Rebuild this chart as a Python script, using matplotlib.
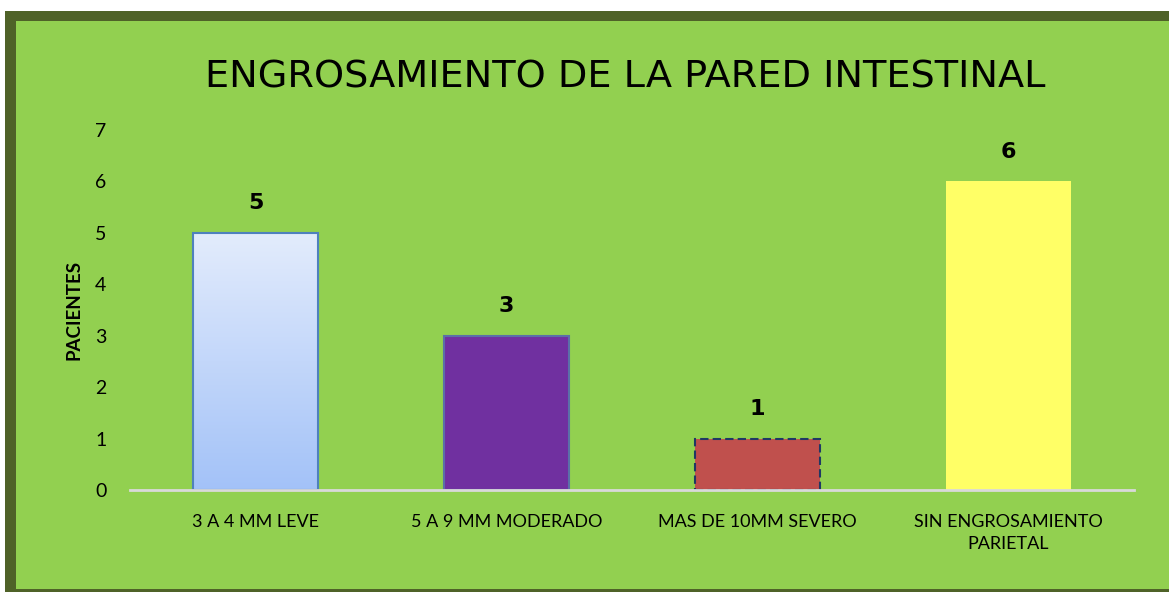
import matplotlib
import matplotlib.pyplot as plt
import numpy as np
from matplotlib.patches import Rectangle

matplotlib.use('Agg')

categories = ["3 A 4 MM LEVE", "5 A 9 MM MODERADO", "MAS DE 10MM SEVERO", "SIN ENGROSAMIENTO\nPARIETAL"]
pacientes = [5, 3, 1, 6]
y_ticks = [0, 1, 2, 3, 4, 5, 6, 7]
title = "ENGROSAMIENTO DE LA PARED INTESTINAL"
y_label = "PACIENTES"

W, H = 1169, 592
fig = plt.figure(figsize=(W / 100, H / 100), dpi=100)
fig.patch.set_facecolor("white")

# frame: dark olive border + green fill
fig.patches.append(Rectangle((5 / W, 0), 1 - 5 / W, (H - 11) / H, transform=fig.transFigure,
                             facecolor="#4F6228", edgecolor="none", zorder=-2))
fig.patches.append(Rectangle((16 / W, 3 / H), 1 - 16 / W, (589 - 21) / H, transform=fig.transFigure,
                             facecolor="#92D050", edgecolor="none", zorder=-1))

ax = fig.add_axes([130 / W, 1 - 490 / H, (1134 - 130) / W, (490 - 130) / H])
ax.set_facecolor("none")
ax.patch.set_alpha(0.0)

x = np.arange(len(categories))
faces = ["none", "#7030A0", "#C0504D", "#FFFF66"]
edges = ["#4F81BD", "#5B6FA8", "#1F3864", "none"]
styles = ["solid", "solid", (0, (4, 2)), "solid"]
bars = ax.bar(x, pacientes, width=0.5, color=faces, zorder=3)
for b, ec, ls in zip(bars, edges, styles):
    b.set_edgecolor(ec)
    b.set_linestyle(ls)
    b.set_linewidth(1.5 if ec != "none" else 0)

# gradient fill for the first bar
b0 = bars[0]
grad = np.linspace(0, 1, 256).reshape(-1, 1)
top_c = np.array([0xE3, 0xEC, 0xFC]) / 255
bot_c = np.array([0xA3, 0xC2, 0xF8]) / 255
img = top_c[None, None, :] * (1 - grad[:, :, None]) + bot_c[None, None, :] * grad[:, :, None]
ax.imshow(img, extent=[b0.get_x(), b0.get_x() + b0.get_width(), 0, b0.get_height()],
          aspect="auto", zorder=2, origin="upper")

for b, v in zip(bars, pacientes):
    ax.annotate(str(v), (b.get_x() + b.get_width() / 2, v), xytext=(0, 14), textcoords="offset points",
                ha="center", va="bottom", fontsize=16, fontweight="bold", color="black")

ax.set_xlim(-0.5, len(categories) - 0.5)
ax.set_ylim(0, 7)
ax.set_yticks(y_ticks)
ax.set_xticks(x)
ax.set_xticklabels(categories, fontsize=13, family="Lato", linespacing=1.5)
for lab in ax.get_yticklabels():
    lab.set_family("Lato")
    lab.set_fontsize(14)
ax.tick_params(axis="both", length=0)
ax.tick_params(axis="x", pad=17)
ax.tick_params(axis="y", pad=17)
for s in ["top", "right", "left"]:
    ax.spines[s].set_visible(False)
ax.spines["bottom"].set_color("#D9D9D9")
ax.spines["bottom"].set_linewidth(2)
ax.spines["bottom"].set_zorder(4)

ax.set_ylabel(y_label, fontsize=13.5, fontweight="bold", family="Lato", va="center")
ax.yaxis.set_label_coords(-56 / 1004, 0.5)

fig.text(625 / W, 1 - 78 / H, title, ha="center", va="center", fontsize=27.5, color="black")

fig.savefig("out.png", dpi=100)
